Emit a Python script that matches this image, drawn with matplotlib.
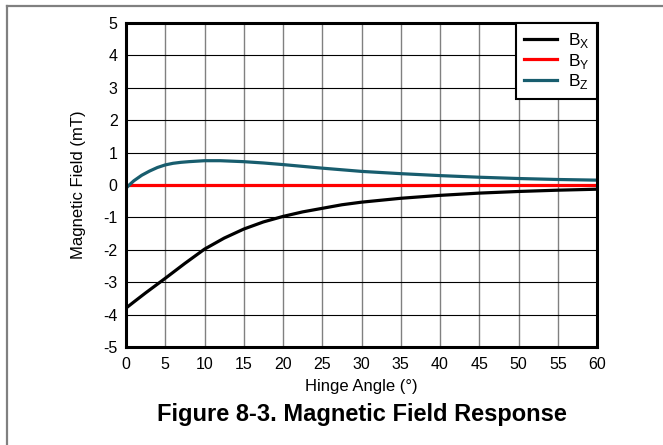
import matplotlib
matplotlib.use("Agg")
import matplotlib.pyplot as plt
from matplotlib.lines import Line2D

plt.rcParams['font.family'] = ['Liberation Sans', 'DejaVu Sans']
plt.rcParams['mathtext.fontset'] = 'custom'
plt.rcParams['mathtext.rm'] = 'Liberation Sans'
plt.rcParams['axes.unicode_minus'] = False

angle_bx = [0, 1, 2.5, 5, 7.5, 10, 12.5, 15, 17.5, 20, 22.5, 25, 27.5, 30, 35, 40, 45, 50, 55, 60]
bx = [-3.8, -3.61, -3.33, -2.88, -2.42, -1.98, -1.64, -1.36, -1.14, -0.97, -0.83, -0.72, -0.61, -0.53, -0.41, -0.32, -0.25, -0.2, -0.16, -0.13]

angle_by = [0, 60]
by = [0, 0]

angle_bz = [0, 0.5, 1, 2, 3, 4, 5, 6, 7, 8, 10, 12, 15, 17.5, 20, 25, 30, 35, 40, 45, 50, 55, 60]
bz = [-0.1, 0.02, 0.13, 0.3, 0.43, 0.54, 0.62, 0.67, 0.7, 0.72, 0.75, 0.75, 0.72, 0.68, 0.63, 0.52, 0.42, 0.35, 0.29, 0.24, 0.2, 0.17, 0.15]

xticks = list(range(0, 61, 5))
yticks = list(range(-5, 6))

fig = plt.figure(figsize=(6.63, 4.45), dpi=100)
ax = fig.add_axes([126/663, 1-347/445, (597-126)/663, (347-23)/445])

ax.plot(angle_bx, bx, color='black', lw=2.3, label=r'B$_\mathregular{X}$', zorder=3)
ax.plot(angle_by, by, color='#ff0000', lw=2.3, label=r'B$_\mathregular{Y}$', zorder=3)
ax.plot(angle_bz, bz, color='#185d6e', lw=2.3, label=r'B$_\mathregular{Z}$', zorder=4)

ax.set_xlim(0, 60)
ax.set_ylim(-5, 5)
ax.set_xticks(xticks)
ax.set_yticks(yticks)
ax.tick_params(length=0, labelsize=11.5)
ax.tick_params(axis='x', pad=7)
ax.tick_params(axis='y', pad=6)
for x in xticks[1:-1]:
    ax.axvline(x, color='#808080', lw=1.0, zorder=1)
for y in yticks[1:-1]:
    ax.axhline(y, color='black', lw=0.8, zorder=1)
for s in ax.spines.values():
    s.set_linewidth(2.2)
    s.set_zorder(5)

ax.set_xlabel('Hinge Angle (°)', fontsize=12)
ax.set_ylabel('Magnetic Field (mT)', fontsize=12)
ax.xaxis.set_label_coords(0.5, (347-386.7)/324)
ax.yaxis.set_label_coords((78-126)/471, 0.5)
ax.xaxis.label.set_va('center')
ax.yaxis.label.set_va('center')

leg = ax.legend(loc='upper right', borderaxespad=0, fancybox=False, framealpha=1,
                edgecolor='black', fontsize=12.5, handlelength=1.9, handletextpad=0.6,
                borderpad=0.45, labelspacing=0.1)
leg.get_frame().set_linewidth(1.5)
leg.set_zorder(6)

fig.text(361.5/663, 1-414/445, 'Figure 8-3. Magnetic Field Response', ha='center', va='center',
         fontsize=17, fontweight='bold')

fig.add_artist(Line2D([7/663, 1], [1-5.5/445, 1-5.5/445], transform=fig.transFigure, color='#808080', lw=1.6))
fig.add_artist(Line2D([7/663, 7/663], [0, 1-5.5/445], transform=fig.transFigure, color='#808080', lw=1.6))

fig.savefig('out.png', dpi=100)
